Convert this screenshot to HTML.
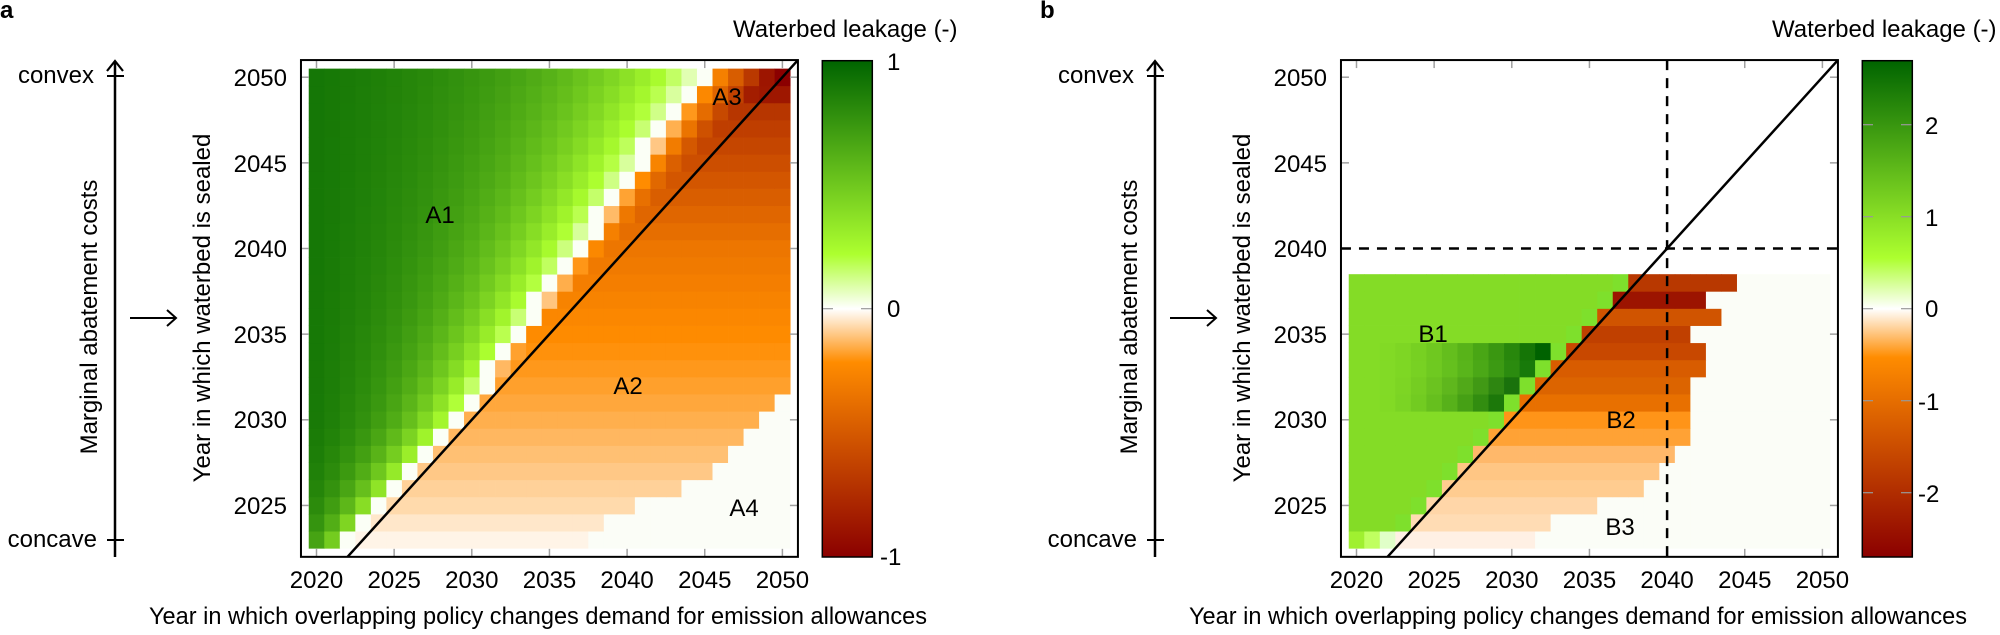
<!DOCTYPE html>
<html><head><meta charset="utf-8"><style>
html,body{margin:0;padding:0;background:#fff;}
svg{display:block;font-family:"Liberation Sans",Arial,sans-serif;}
</style></head><body>
<svg id="s" width="2000" height="635" viewBox="0 0 2000 635" xmlns="http://www.w3.org/2000/svg">
<defs>
<linearGradient id="ga" x1="0" y1="0" x2="0" y2="1">
<stop offset="0" stop-color="#006400"/><stop offset="0.39" stop-color="#adff2f"/><stop offset="0.5" stop-color="#ffffff"/><stop offset="0.6075" stop-color="#ff8c00"/><stop offset="1" stop-color="#8b0000"/>
</linearGradient>
<linearGradient id="gb" x1="0" y1="0" x2="0" y2="1">
<stop offset="0" stop-color="#006400"/><stop offset="0.398" stop-color="#adff2f"/><stop offset="0.5" stop-color="#ffffff"/><stop offset="0.598" stop-color="#ff8c00"/><stop offset="1" stop-color="#8b0000"/>
</linearGradient>
</defs>
<g id="cellsA"></g><g id="cellsB"></g>
<g id="decor"></g>
<g font-size="24" fill="#000">
<text x="0" y="18" font-weight="bold">a</text>
<text x="1040" y="18" font-weight="bold">b</text>
<text x="733" y="37">Waterbed leakage (-)</text>
<text x="1772" y="37">Waterbed leakage (-)</text>
<text x="887" y="70">1</text><text x="887" y="317">0</text><text x="880" y="565">-1</text>
<text x="1925" y="134">2</text><text x="1925" y="226">1</text><text x="1925" y="317">0</text><text x="1918" y="410">-1</text><text x="1918" y="502">-2</text>
<text x="94" y="83" text-anchor="end">convex</text><text x="97" y="547" text-anchor="end">concave</text>
<text x="1134" y="83" text-anchor="end">convex</text><text x="1137" y="547" text-anchor="end">concave</text>
<text transform="translate(97,317) rotate(-90)" text-anchor="middle">Marginal abatement costs</text>
<text transform="translate(1137,317) rotate(-90)" text-anchor="middle">Marginal abatement costs</text>
<text transform="translate(210,308) rotate(-90)" text-anchor="middle">Year in which waterbed is sealed</text>
<text transform="translate(1250,308) rotate(-90)" text-anchor="middle">Year in which waterbed is sealed</text>
<text x="149" y="624" textLength="778" lengthAdjust="spacingAndGlyphs">Year in which overlapping policy changes demand for emission allowances</text>
<text x="1189" y="624" textLength="778" lengthAdjust="spacingAndGlyphs">Year in which overlapping policy changes demand for emission allowances</text>
<text x="440" y="223" text-anchor="middle">A1</text>
<text x="628" y="394" text-anchor="middle">A2</text>
<text x="727" y="105" text-anchor="middle">A3</text>
<text x="744" y="516" text-anchor="middle">A4</text>
<text x="1433" y="342" text-anchor="middle">B1</text>
<text x="1621" y="428" text-anchor="middle">B2</text>
<text x="1620" y="535" text-anchor="middle">B3</text>
<g text-anchor="end">
<text x="287" y="86">2050</text><text x="287" y="172">2045</text><text x="287" y="257">2040</text><text x="287" y="343">2035</text><text x="287" y="428">2030</text><text x="287" y="514">2025</text>
<text x="1327" y="86">2050</text><text x="1327" y="172">2045</text><text x="1327" y="257">2040</text><text x="1327" y="343">2035</text><text x="1327" y="428">2030</text><text x="1327" y="514">2025</text>
</g>
<g text-anchor="middle">
<text x="316.5" y="588">2020</text><text x="394.2" y="588">2025</text><text x="471.8" y="588">2030</text><text x="549.5" y="588">2035</text><text x="627.1" y="588">2040</text><text x="704.8" y="588">2045</text><text x="782.4" y="588">2050</text>
<text x="1356.5" y="588">2020</text><text x="1434.2" y="588">2025</text><text x="1511.8" y="588">2030</text><text x="1589.5" y="588">2035</text><text x="1667.1" y="588">2040</text><text x="1744.8" y="588">2045</text><text x="1822.4" y="588">2050</text>
</g>
</g>
</svg>
<script>
(function(){
var NS="http://www.w3.org/2000/svg";
function X(x,o){return 316.5+(x-2020)*15.53+o;}
function Y(y){return 77.2+(2050-y)*17.13;}
function el(p,n,a){var e=document.createElementNS(NS,n);for(var k in a)e.setAttribute(k,a[k]);p.appendChild(e);return e;}
function hx(h){return [parseInt(h.substr(1,2),16),parseInt(h.substr(3,2),16),parseInt(h.substr(5,2),16)];}
function lerp(a,b,t){a=hx(a);b=hx(b);t=Math.max(0,Math.min(1,t));return "rgb("+[0,1,2].map(function(i){return Math.round(a[i]+(b[i]-a[i])*t);}).join(",")+")";}
function cmap(v){if(v>=0){return v<0.22?lerp("#ffffff","#adff2f",v/0.22):lerp("#adff2f","#006400",(v-0.22)/0.78);}
var u=-v;return u<0.215?lerp("#ffffff","#ff8c00",u/0.215):lerp("#ff8c00","#8b0000",(u-0.215)/0.785);}
function cell(g,x,y,c,o){el(g,"rect",{x:(X(x,o)-7.77).toFixed(2),y:(Y(y)-8.57).toFixed(2),width:15.9,height:17.5,fill:c});}
var OW="#fbfdf7";
var gA=document.getElementById("cellsA");
var Rt=[[2023,0.02],[2025,0.07],[2030,0.15],[2035,0.22],[2040,0.34],[2045,0.56],[2047,0.65],[2048,0.70],[2049,0.87],[2050,1.0]];
function R(y){for(var i=0;i<Rt.length-1;i++){if(y<=Rt[i+1][0]){var t=(y-Rt[i][0])/(Rt[i+1][0]-Rt[i][0]);return Rt[i][1]+t*(Rt[i+1][1]-Rt[i][1]);}}return 1;}
var endA={2023:2037,2024:2038,2025:2040,2026:2043,2027:2045,2028:2046,2029:2047,2030:2048,2031:2049};
for(var y=2023;y<=2050;y++){
 var X0=y-1-Math.max(0,y-2030)*0.22, L=2+(y-2023)*0.32, e=endA[y]||2050;
 for(var x=2020;x<=2050;x++){
  var c;
  if(x>e){c=OW;}
  else{var d=X0-x;
   if(d>0.5){c=cmap(1-Math.exp(-(d+0.3)/L));}
   else if(d>=-0.5){c=cmap(0.01);}
   else{c=cmap(-Math.min(R(y),0.1+0.2*(x-X0-0.5)));}
  }
  cell(gA,x,y,c,0);
 }
}
var gB=document.getElementById("cellsB"),O=1040;
var G="#84dc26",E="#7ee02c";
var endB={2023:2031,2024:2032,2025:2035,2026:2038,2027:2039,2028:2040,2029:2041,2030:2041,2031:2041,2032:2041,2033:2042,2034:2042,2035:2041,2036:2043,2037:2042,2038:2044};
var orB={2023:"#fff0e4",2024:"#ffdcb4",2025:"#ffd6a8",2026:"#ffcc90",2027:"#ffc684",2028:"#ffb86a",2029:"#ffa235",2030:"#ff9418",2031:"#e87000",2032:"#dc6400",2033:"#d85c00",2034:"#c84800",2035:"#c04000",2036:"#d05400",2037:"#9c1400",2038:"#b83800"};
var dark={2031:["#1c780a",2029],2032:["#1a720c",2030],2033:["#187a0a",2031],2034:["#006200",2032]};
for(var y=2023;y<=2038;y++){
 for(var x=2020;x<=2050;x++){
  var c;
  if(x>endB[y]) c=OW;
  else if(x>=y) c=orB[y];
  else if(x==y-1) c=E;
  else {c=G;
   if(dark[y]){var t=(x-2021)/(dark[y][1]-2021);if(t>0)c=lerp(G,dark[y][0],Math.pow(t,1.8));}
  }
  if(y==2023){if(x==2020)c="#a0f030";if(x==2021)c="#c0ff60";if(x==2022)c="#e0ffc8";}
  cell(gB,x,y,c,O);
 }
}
var D=document.getElementById("decor");
[0,1040].forEach(function(o){
 var L=X(2019,o),Rr=X(2051,o),T=Y(2051),B=Y(2022);
 for(var v=2020;v<=2050;v+=5){
  el(D,"line",{x1:X(v,o),x2:X(v,o),y1:T,y2:T+8,stroke:"#a0a0a0","stroke-width":1.5});
  el(D,"line",{x1:X(v,o),x2:X(v,o),y1:B,y2:B-8,stroke:"#a0a0a0","stroke-width":1.5});
 }
 for(var v=2025;v<=2050;v+=5){
  el(D,"line",{x1:L,x2:L+8,y1:Y(v),y2:Y(v),stroke:"#a0a0a0","stroke-width":1.5});
  el(D,"line",{x1:Rr,x2:Rr-8,y1:Y(v),y2:Y(v),stroke:"#a0a0a0","stroke-width":1.5});
 }
 el(D,"line",{x1:X(2022,o),y1:B,x2:Rr,y2:T,stroke:"#000","stroke-width":2.5});
 if(o){
  el(D,"line",{x1:X(2040,o),x2:X(2040,o),y1:T,y2:B,stroke:"#000","stroke-width":2.5,"stroke-dasharray":"10,8"});
  el(D,"line",{x1:L,x2:Rr,y1:Y(2040),y2:Y(2040),stroke:"#000","stroke-width":2.5,"stroke-dasharray":"10,8"});
 }
 el(D,"rect",{x:L,y:T,width:Rr-L,height:B-T,fill:"none",stroke:"#000","stroke-width":2});
 el(D,"rect",{x:822.3+o,y:60.7,width:50,height:496.3,fill:o?"url(#gb)":"url(#ga)",stroke:"#000","stroke-width":1.5});
 var vals=o?[2,1,0,-1,-2]:[0];
 vals.forEach(function(v){var yy=308.7-(o?92:248.2)*v;
  el(D,"line",{x1:823+o,x2:833+o,y1:yy,y2:yy,stroke:"#999","stroke-width":1.2});
  el(D,"line",{x1:861+o,x2:871.5+o,y1:yy,y2:yy,stroke:"#999","stroke-width":1.2});});
 el(D,"line",{x1:115+o,x2:115+o,y1:62,y2:557,stroke:"#000","stroke-width":2.5});
 el(D,"polyline",{points:(107+o)+",71 "+(115+o)+",61 "+(123+o)+",71",fill:"none",stroke:"#000","stroke-width":2.2});
 el(D,"line",{x1:107+o,x2:124+o,y1:76,y2:76,stroke:"#000","stroke-width":2});
 el(D,"line",{x1:107+o,x2:124+o,y1:540,y2:540,stroke:"#000","stroke-width":2});
 el(D,"line",{x1:130+o,x2:176+o,y1:318,y2:318,stroke:"#000","stroke-width":2});
 el(D,"polyline",{points:(167+o)+",310 "+(176+o)+",318 "+(167+o)+",326",fill:"none",stroke:"#000","stroke-width":2});
});
})();
</script>
</body></html>
